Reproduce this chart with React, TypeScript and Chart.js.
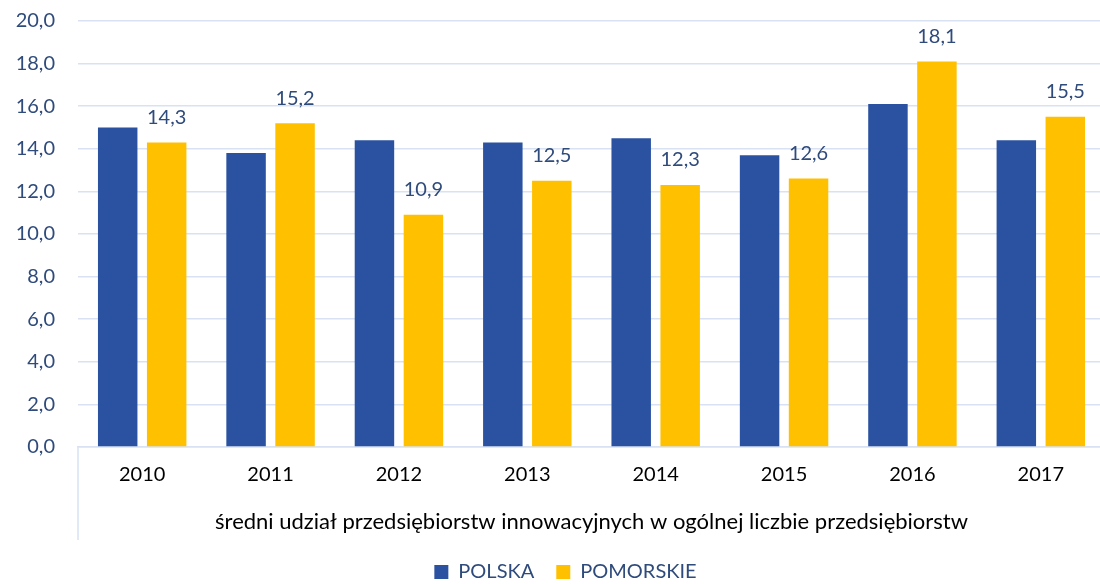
import React, { useEffect, useRef } from "react";
import { Chart, registerables } from "chart.js";
Chart.register(...registerables);

const years = ["2010", "2011", "2012", "2013", "2014", "2015", "2016", "2017"];
const polska = [15.0, 13.8, 14.4, 14.3, 14.5, 13.7, 16.1, 14.4];
const pomorskie = [14.3, 15.2, 10.9, 12.5, 12.3, 12.6, 18.1, 15.5];
const seriesNames = ["POLSKA", "POMORSKIE"];
const xTitle = "średni udział przedsiębiorstw innowacyjnych w ogólnej liczbie przedsiębiorstw";

const FONT = "Lato";
const BLUE = "#2A52A0";
const YELLOW = "#FFC000";
const TEXT_BLUE = "#2F4B7C";
const GRID = "#D9E2F3";

const fmt = (v: number) => v.toFixed(1).replace(".", ",");

export default function App() {
  const ref = useRef<HTMLCanvasElement | null>(null);
  useEffect(() => {
    document.body.style.margin = "0";
    const helperPlugin = {
      id: "helpers",
      afterLayout(chart: any) {
        if (chart.legend) {
          chart.legend.left += 13;
          chart.legend.right += 13;
        }
      },
      afterDatasetsDraw(chart: any) {
        const ctx = chart.ctx;
        const meta = chart.getDatasetMeta(1);
        ctx.save();
        ctx.font = `20px ${FONT}`;
        ctx.fillStyle = TEXT_BLUE;
        ctx.textAlign = "center";
        ctx.textBaseline = "middle";
        meta.data.forEach((bar: any, i: number) => {
          ctx.fillText(fmt(pomorskie[i]), bar.x, bar.y - 25);
        });
        ctx.restore();
      },
      afterDraw(chart: any) {
        const ctx = chart.ctx;
        const { left, bottom } = chart.chartArea;
        const xs = chart.scales.x;
        ctx.save();
        ctx.strokeStyle = GRID;
        ctx.lineWidth = 1.5;
        ctx.beginPath();
        ctx.moveTo(left, bottom);
        ctx.lineTo(left, xs.bottom);
        ctx.stroke();
        ctx.restore();
      },
    };
    const chart = new Chart(ref.current as HTMLCanvasElement, {
      type: "bar",
      data: {
        labels: years,
        datasets: [
          { label: seriesNames[0], data: polska, backgroundColor: BLUE },
          { label: seriesNames[1], data: pomorskie, backgroundColor: YELLOW },
        ],
      },
      options: {
        responsive: false,
        animation: false,
        devicePixelRatio: 1,
        layout: { padding: { top: 21, left: 0, right: 3, bottom: -8 } },
        datasets: { bar: { categoryPercentage: 0.763, barPercentage: 0.806 } },
        plugins: {
          tooltip: { enabled: false },
          legend: {
            position: "bottom",
            labels: {
              boxWidth: 14,
              boxHeight: 14,
              padding: 22,
              color: TEXT_BLUE,
              font: { family: FONT, size: 20 },
            },
          },
        },
        scales: {
          x: {
            afterFit: (s: any) => { s.height = 93; },
            grid: { display: false, drawTicks: false },
            border: { display: true, color: GRID, width: 1.5 },
            ticks: { color: "#000", font: { family: FONT, size: 20 }, padding: 16 },
            title: {
              display: true,
              text: xTitle,
              color: "#000",
              font: { family: FONT, size: 22 },
              padding: { top: 8, bottom: 5 },
            },
          },
          y: {
            min: 0,
            max: 20,
            afterFit: (s: any) => { s.width = 78; s.paddingTop = 0; s.paddingBottom = 0; },
            grid: { color: GRID, lineWidth: 1.5, drawTicks: false },
            border: { display: false },
            ticks: {
              stepSize: 2,
              padding: 23,
              color: TEXT_BLUE,
              font: { family: FONT, size: 20 },
              callback: (v: any) => fmt(Number(v)),
            },
          },
        },
      },
      plugins: [helperPlugin],
    } as any);
    return () => chart.destroy();
  }, []);
  return (
    <div style={{ width: 1100, height: 584, overflow: "hidden", background: "#fff" }}>
      <canvas ref={ref} width={1108} height={584} />
    </div>
  );
}
